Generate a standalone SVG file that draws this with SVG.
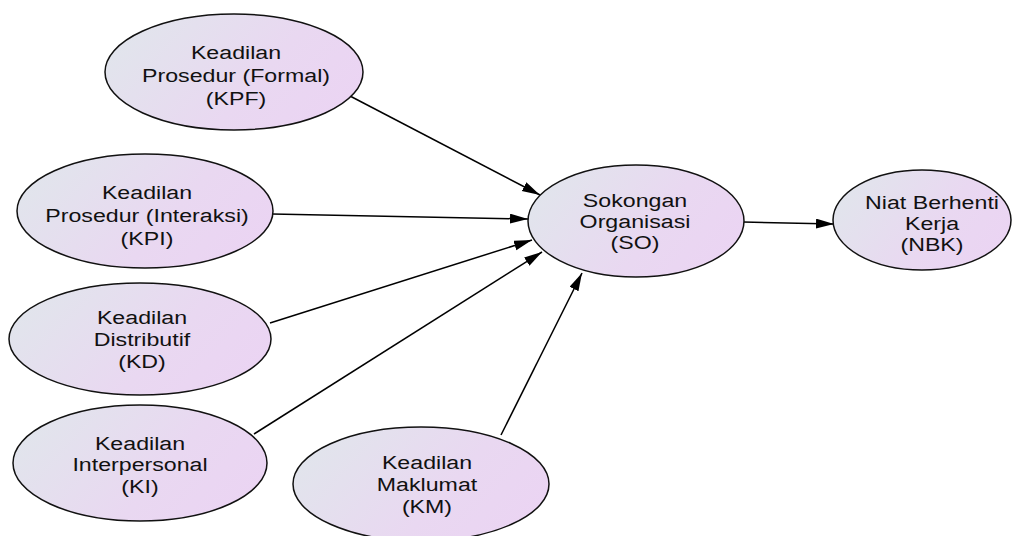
<svg xmlns="http://www.w3.org/2000/svg" width="1016" height="536" viewBox="0 0 1016 536">
<defs>
<linearGradient id="g" x1="0" y1="0.3" x2="1" y2="0.7">
<stop offset="0" stop-color="#e1e5ec"/>
<stop offset="0.6" stop-color="#e9d8f1"/>
<stop offset="1" stop-color="#ebd4f3"/>
</linearGradient>
<marker id="ah" markerUnits="userSpaceOnUse" markerWidth="20" markerHeight="12" refX="18" refY="5" orient="auto">
<path d="M0,0 L18,5 L0,10 z" fill="#000"/>
</marker>
<style>
.n{fill:url(#g);stroke:#111;stroke-width:1.5}
.t{font-family:"Liberation Sans",Arial,sans-serif;font-size:19px;fill:#111;text-anchor:middle}
.c line{stroke:#000;stroke-width:1.5;marker-end:url(#ah)}
</style>
</defs>
<rect width="1016" height="536" fill="#fff"/>
<g class="c" id="connectors">
<line x1="350" y1="96" x2="540" y2="195"/>
<line x1="272" y1="214" x2="528" y2="219"/>
<line x1="270" y1="323" x2="532" y2="240"/>
<line x1="254" y1="434" x2="542" y2="252"/>
<line x1="501" y1="435" x2="582" y2="273"/>
<line x1="743" y1="222" x2="834" y2="224"/>
</g>
<g id="KPF">
<ellipse class="n" cx="234" cy="72" rx="129" ry="58"/>
<g transform="translate(236,0) scale(1.22,1)"><text class="t" x="0" y="59">Keadilan</text><text class="t" x="0" y="82">Prosedur (Formal)</text><text class="t" x="0" y="105">(KPF)</text></g>
</g>
<g id="KPI">
<ellipse class="n" cx="145" cy="211" rx="128" ry="57"/>
<g transform="translate(147,0) scale(1.22,1)"><text class="t" x="0" y="199">Keadilan</text><text class="t" x="0" y="222">Prosedur (Interaksi)</text><text class="t" x="0" y="245">(KPI)</text></g>
</g>
<g id="KD">
<ellipse class="n" cx="140" cy="339" rx="131" ry="56"/>
<g transform="translate(142,0) scale(1.22,1)"><text class="t" x="0" y="324">Keadilan</text><text class="t" x="0" y="346">Distributif</text><text class="t" x="0" y="368">(KD)</text></g>
</g>
<g id="KI">
<ellipse class="n" cx="140" cy="463" rx="127" ry="58"/>
<g transform="translate(140,0) scale(1.22,1)"><text class="t" x="0" y="450">Keadilan</text><text class="t" x="0" y="471">Interpersonal</text><text class="t" x="0" y="493">(KI)</text></g>
</g>
<g id="KM">
<ellipse class="n" cx="421" cy="484" rx="128" ry="57"/>
<g transform="translate(427,0) scale(1.22,1)"><text class="t" x="0" y="469">Keadilan</text><text class="t" x="0" y="491">Maklumat</text><text class="t" x="0" y="513">(KM)</text></g>
</g>
<g id="SO">
<ellipse class="n" cx="636" cy="221" rx="108" ry="56"/>
<g transform="translate(635,0) scale(1.22,1)"><text class="t" x="0" y="207">Sokongan</text><text class="t" x="0" y="228">Organisasi</text><text class="t" x="0" y="249">(SO)</text></g>
</g>
<g id="NBK">
<ellipse class="n" cx="922" cy="220" rx="89" ry="50"/>
<g transform="translate(932,0) scale(1.22,1)"><text class="t" x="0" y="209">Niat Berhenti</text><text class="t" x="0" y="230">Kerja</text><text class="t" x="0" y="251">(NBK)</text></g>
</g>
</svg>
